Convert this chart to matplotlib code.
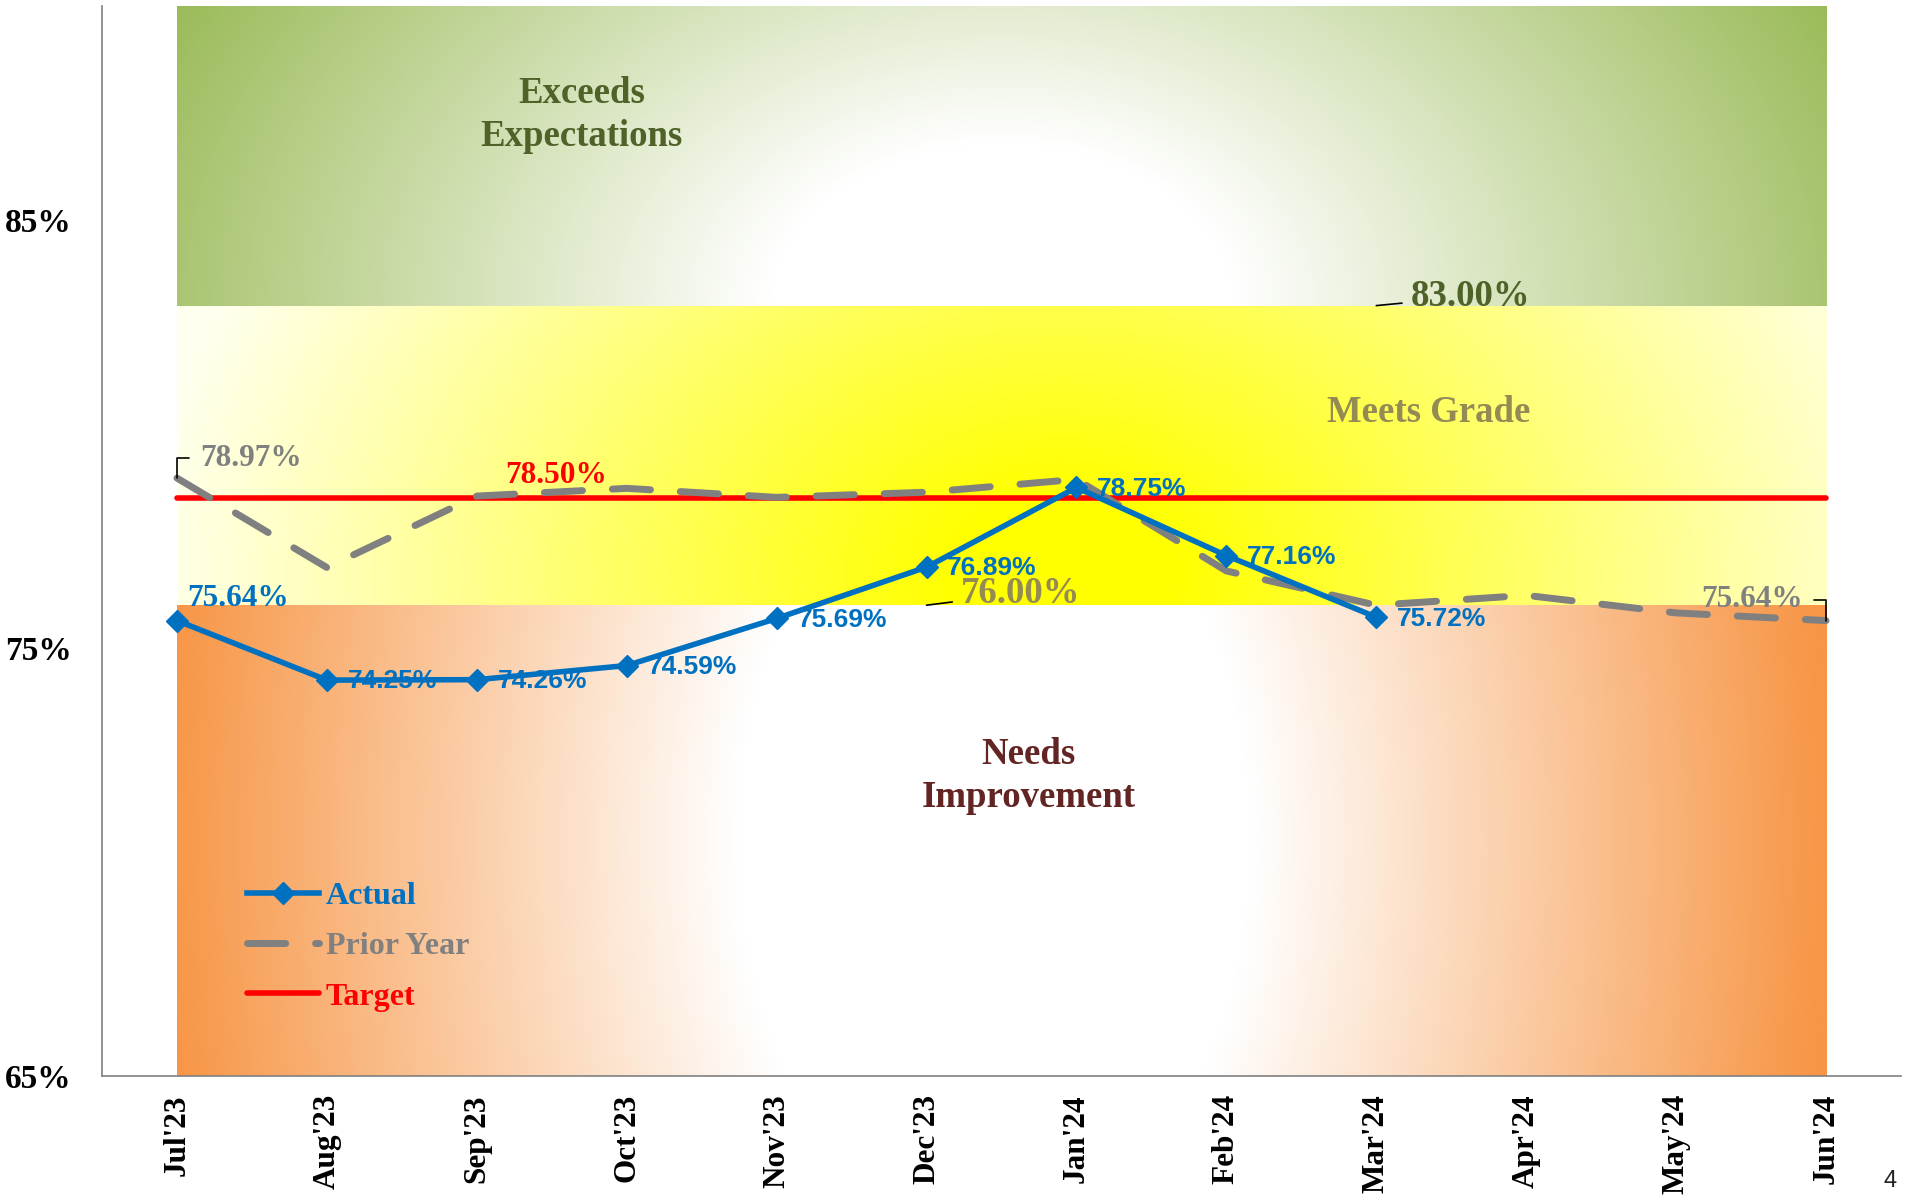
import numpy as np
import matplotlib
matplotlib.use("Agg")
import matplotlib.pyplot as plt
from matplotlib.colors import to_rgb

# ---------------- data ----------------
months = ["Jul'23", "Aug'23", "Sep'23", "Oct'23", "Nov'23", "Dec'23",
          "Jan'24", "Feb'24", "Mar'24", "Apr'24", "May'24", "Jun'24"]
actual = [75.64, 74.25, 74.26, 74.59, 75.69, 76.89, 78.75, 77.16, 75.72]
prior_year = [78.97, 76.88, 78.55, 78.73, 78.52, 78.64, 78.94, 76.80, 76.00,
              76.23, 75.82, 75.64]
target = [78.50] * 12
band_edges = [65, 76, 83, 90]          # Needs Improvement / Meets Grade / Exceeds
band_names = ["Needs\nImprovement", "Meets Grade", "Exceeds\nExpectations"]
y_ticks = [65, 75, 85]

SERIF = "Liberation Serif"
SANS = "Liberation Sans"
BLUE = "#0070C0"
GRAY = "#808080"
RED = "#FF0000"

fig = plt.figure(figsize=(19.11, 11.96), dpi=100)
ax = fig.add_axes([102 / 1911, 1 - 1076 / 1196, 1799 / 1911, 1070 / 1196])
ax.set_xlim(-0.5, 11.5)
ax.set_ylim(band_edges[0], band_edges[-1])

x = np.arange(len(months))
x0, x1 = x[0], x[-1]


def band_image(y0, y1, cx, cy, rx, ry, c_in, c_out, inner):
    p0 = ax.transData.transform((0, 0))
    p1 = ax.transData.transform((1, 1))
    sx, sy = p1 - p0
    xs = np.linspace(x0, x1, 800)
    ys = np.linspace(y0, y1, 260)
    X, Y = np.meshgrid(xs, ys)
    t = np.sqrt(((X - cx) * sx / rx) ** 2 + ((Y - cy) * sy / ry) ** 2)
    m = np.clip((t - inner) / (1 - inner), 0, 1)[..., None]
    img = np.array(to_rgb(c_in)) * (1 - m) + np.array(to_rgb(c_out)) * m
    ax.imshow(img, extent=(x0, x1, y0, y1), origin="lower", aspect="auto",
              interpolation="bilinear", zorder=0)


# orange band (Needs Improvement)
band_image(band_edges[0], band_edges[1], 5.45, (band_edges[0] + band_edges[1]) / 2,
           830, 1300, "#FFFFFF", "#F79646", 0.31)
# yellow band (Meets Grade)
band_image(band_edges[1], band_edges[2], 5.9, 76.7, 920, 680,
           "#FFFF00", "#FFFFF0", 0.12)
# green band (Exceeds Expectations)
band_image(band_edges[2], band_edges[3], 5.5, band_edges[2], 930, 650,
           "#FFFFFF", "#9BBB59", 0.25)

ax.set_xlim(-0.5, 11.5)
ax.set_ylim(band_edges[0], band_edges[-1])

# ---------------- series ----------------
ax.plot(x, target, color=RED, lw=4, solid_capstyle="round", zorder=3,
        label="Target")
ax.plot(x, prior_year, color=GRAY, lw=5, linestyle=(0, (5.5, 4.3)),
        dash_capstyle="round", zorder=4, label="Prior Year")
ax.plot(x[:len(actual)], actual, color=BLUE, lw=4, marker="D", ms=11,
        zorder=5, label="Actual")

# ---------------- labels ----------------
leader = dict(arrowstyle="-", color="black", lw=1.2, shrinkA=0, shrinkB=0)

# actual values
for i, v in enumerate(actual):
    if i == 0:
        ax.annotate(f"{v:.2f}%", (x[i], v), xytext=(44, 16),
                    textcoords="offset points", ha="center", va="center",
                    color=BLUE, fontsize=22.5, fontweight="bold",
                    family=SERIF, zorder=6)
    else:
        ax.annotate(f"{v:.2f}%", (x[i], v), xytext=(15, -1),
                    textcoords="offset points", ha="left", va="center",
                    color=BLUE, fontsize=19, fontweight="bold",
                    family=SANS, zorder=6)

# prior year first / last
ax.annotate(f"{prior_year[0]:.2f}%", (x[0], prior_year[0]), xytext=(16.5, 14.4),
            textcoords="offset points", ha="left", va="center", color=GRAY,
            fontsize=22.5, fontweight="bold", family=SERIF, zorder=6,
            arrowprops=dict(leader, connectionstyle="angle,angleA=180,angleB=90,rad=0",
                            shrinkA=6))
ax.annotate(f"{prior_year[-1]:.2f}%", (x[-1], prior_year[-1]), xytext=(-17, 15),
            textcoords="offset points", ha="right", va="center", color=GRAY,
            fontsize=22.5, fontweight="bold", family=SERIF, zorder=6,
            arrowprops=dict(leader, connectionstyle="angle,angleA=0,angleB=90,rad=0",
                            shrinkA=6))

# target label
ax.annotate(f"{target[2]:.2f}%", (x[2], target[2]), xytext=(57, 16.5),
            textcoords="offset points", ha="center", va="center", color=RED,
            fontsize=22.5, fontweight="bold", family=SERIF, zorder=6)

# band threshold labels
ax.annotate(f"{band_edges[2]:.2f}%", (x[8], band_edges[2]), xytext=(24.5, 6.5),
            textcoords="offset points", ha="left", va="center", color="#4F6228",
            fontsize=26.5, fontweight="bold", family=SERIF, zorder=6,
            arrowprops=dict(leader, shrinkA=4))
ax.annotate(f"{band_edges[1]:.2f}%", (x[5], band_edges[1]), xytext=(24.5, 8.5),
            textcoords="offset points", ha="left", va="center", color="#948A54",
            fontsize=26.5, fontweight="bold", family=SERIF, zorder=6,
            arrowprops=dict(leader, shrinkA=4))

# zone names
ax.text(2.7, 87.45, band_names[2], ha="center", va="center", color="#4F6228",
        fontsize=26.5, fontweight="bold", family=SERIF, zorder=6, linespacing=1.3)
ax.text(8.35, 80.5, band_names[1], ha="center", va="center", color="#948A54",
        fontsize=26.5, fontweight="bold", family=SERIF, zorder=6)
ax.text(5.68, 72.0, band_names[0], ha="center", va="center", color="#632523",
        fontsize=26.5, fontweight="bold", family=SERIF, zorder=6, linespacing=1.3)

# ---------------- axes ----------------
ax.set_xticks(x)
ax.set_xticklabels(months, rotation=90, fontsize=22.5, fontweight="bold",
                   family=SERIF)
ax.set_yticks(y_ticks)
ax.set_yticklabels([f"{t}%" for t in y_ticks], fontsize=24, fontweight="bold",
                   family=SERIF)
ax.tick_params(axis="x", length=0, pad=13)
ax.tick_params(axis="y", length=0, pad=22)
for s in ["top", "right"]:
    ax.spines[s].set_visible(False)
for s in ["left", "bottom"]:
    ax.spines[s].set_color(GRAY)
    ax.spines[s].set_linewidth(1.2)

h, l = ax.get_legend_handles_labels()
order = [2, 1, 0]
leg = ax.legend([h[k] for k in order], [l[k] for k in order], loc="center left",
                bbox_to_anchor=(0.0806, 0.121), frameon=False, borderpad=0,
                borderaxespad=0, handlelength=2.26, handletextpad=0.2,
                labelspacing=0.66, labelcolor="linecolor",
                prop=dict(family=SERIF, size=23, weight="bold"))
leg.set_zorder(7)

fig.text(1890 / 1911, 1 - 1181 / 1196, "4", ha="center", va="center",
         fontsize=17, family=SANS, color="#222222")

fig.savefig("out.png", dpi=100)
